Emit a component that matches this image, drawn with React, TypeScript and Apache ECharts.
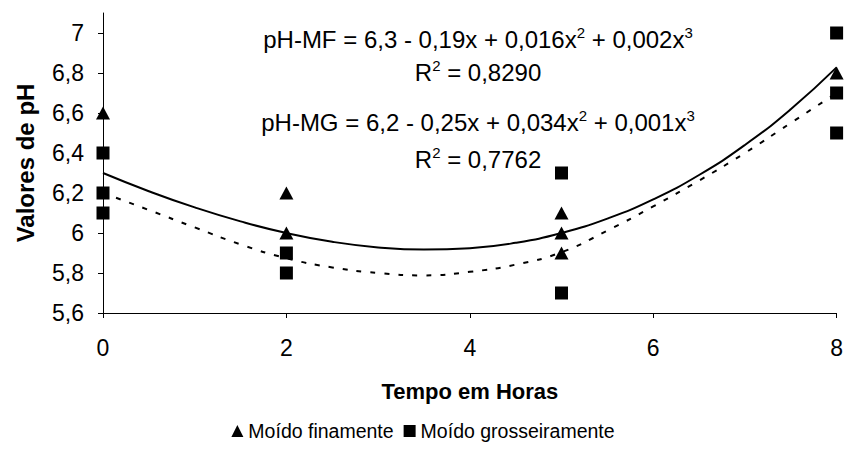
import React, { useEffect, useRef } from 'react';
import * as echarts from 'echarts';

const FONT = '"Liberation Sans", Arial, sans-serif';

// Observed pH readings (time in hours, pH value)
const fineHours = [0, 2, 2, 5, 5, 5, 8];
const finePH = [6.6, 6.2, 6.0, 6.1, 6.0, 5.9, 6.8];
const coarseHours = [0, 0, 0, 2, 2, 5, 5, 8, 8, 8];
const coarsePH = [6.4, 6.2, 6.1, 5.9, 5.8, 6.3, 5.7, 7.0, 6.7, 6.5];

// Cubic trend lines sampled along the time axis
const trendHours = [0, 0.5, 1, 1.5, 2, 2.5, 3, 3.5, 4, 4.5, 5, 5.5, 6, 6.5, 7, 7.5, 8];
const fineTrend = [6.3, 6.209, 6.128, 6.058, 6.0, 5.956, 5.928, 5.917, 5.924, 5.951, 6.0, 6.072, 6.168, 6.29, 6.44, 6.619, 6.828];
const coarseTrend = [6.2, 6.115, 6.028, 5.943, 5.874, 5.828, 5.8, 5.788, 5.806, 5.842, 5.904, 6.012, 6.133, 6.262, 6.4, 6.55, 6.7];

const yTicks = [5.6, 5.8, 6, 6.2, 6.4, 6.6, 6.8, 7];
const seriesNames = ['Moído finamente', 'Moído grosseiramente'];
const equationLines = [
  'pH-MF = 6,3 - 0,19x + 0,016x{s|2} + 0,002x{s|3}',
  'R{s|2} = 0,8290',
  'pH-MG = 6,2 - 0,25x + 0,034x{s|2} + 0,001x{s|3}',
  'R{s|2} = 0,7762',
];
const equationY = [39, 72, 122, 159];

const pairs = (xs: number[], ys: number[]) => xs.map((x, i) => [x, ys[i]]);
const comma = (v: number) => String(Number(v.toFixed(2))).replace('.', ',');

export default function App() {
  const ref = useRef<HTMLDivElement>(null);

  useEffect(() => {
    document.body.style.margin = '0';
    if (!ref.current) return;
    const chart = echarts.init(ref.current, undefined, { renderer: 'svg' });

    const axisLine = { show: true, onZero: false, lineStyle: { color: '#000', width: 1 } };
    const axisTick = { show: true, length: 5, lineStyle: { color: '#000', width: 1 } };

    chart.setOption({
      animation: false,
      backgroundColor: '#fff',
      textStyle: { fontFamily: FONT },
      grid: { left: 103, right: 9, top: 13, bottom: 160, containLabel: false },
      xAxis: {
        type: 'value',
        min: 0,
        max: 8,
        interval: 2,
        axisLine,
        axisTick,
        splitLine: { show: false },
        axisLabel: { color: '#000', fontSize: 23, fontFamily: FONT, margin: 23, formatter: (v: number) => comma(v) },
        name: 'Tempo em Horas',
        nameLocation: 'middle',
        nameGap: 67,
        nameTextStyle: { color: '#000', fontSize: 22, fontWeight: 'bold', fontFamily: FONT },
      },
      yAxis: {
        type: 'value',
        min: 5.6,
        max: 7.1,
        interval: 0.2,
        axisLine,
        axisTick: { ...axisTick, customValues: yTicks },
        splitLine: { show: false },
        axisLabel: {
          color: '#000',
          fontSize: 23,
          fontFamily: FONT,
          margin: 19,
          customValues: yTicks,
          formatter: (v: number) => comma(v),
        },
        name: 'Valores de pH',
        nameLocation: 'middle',
        nameRotate: 90,
        nameGap: 66,
        nameTextStyle: { color: '#000', fontSize: 24, fontWeight: 'bold', fontFamily: FONT },
      },
      legend: {
        data: seriesNames,
        left: 'center',
        top: 416,
        itemWidth: 12,
        itemHeight: 12,
        itemGap: 10,
        textStyle: { color: '#000', fontSize: 19.5, fontFamily: FONT },
      },
      graphic: equationLines.map((t, i) => ({
        type: 'text',
        x: 478,
        y: equationY[i],
        silent: true,
        style: {
          text: t,
          fill: '#000',
          fontSize: 24,
          fontFamily: FONT,
          lineHeight: 28,
          align: 'center',
          verticalAlign: 'middle',
          rich: {
            s: { fontSize: 15, lineHeight: 15, verticalAlign: 'top', fontFamily: FONT, fill: '#000' },
          },
        },
      })),
      series: [
        {
          type: 'line',
          name: 'pH-MF',
          data: pairs(trendHours, fineTrend),
          smooth: true,
          showSymbol: false,
          silent: true,
          lineStyle: { color: '#000', width: 2 },
          z: 2,
        },
        {
          type: 'line',
          name: 'pH-MG',
          data: pairs(trendHours, coarseTrend),
          smooth: true,
          showSymbol: false,
          silent: true,
          lineStyle: { color: '#000', width: 2, type: [5, 9] },
          z: 2,
        },
        {
          type: 'scatter',
          name: seriesNames[0],
          data: pairs(fineHours, finePH),
          symbol: 'triangle',
          symbolSize: [14, 13],
          itemStyle: { color: '#000', opacity: 1 },
          z: 3,
        },
        {
          type: 'scatter',
          name: seriesNames[1],
          data: pairs(coarseHours, coarsePH),
          symbol: 'rect',
          symbolSize: 13,
          itemStyle: { color: '#000', opacity: 1 },
          z: 3,
        },
      ],
    });

    return () => chart.dispose();
  }, []);

  return <div ref={ref} style={{ width: 846, height: 473 }} />;
}
